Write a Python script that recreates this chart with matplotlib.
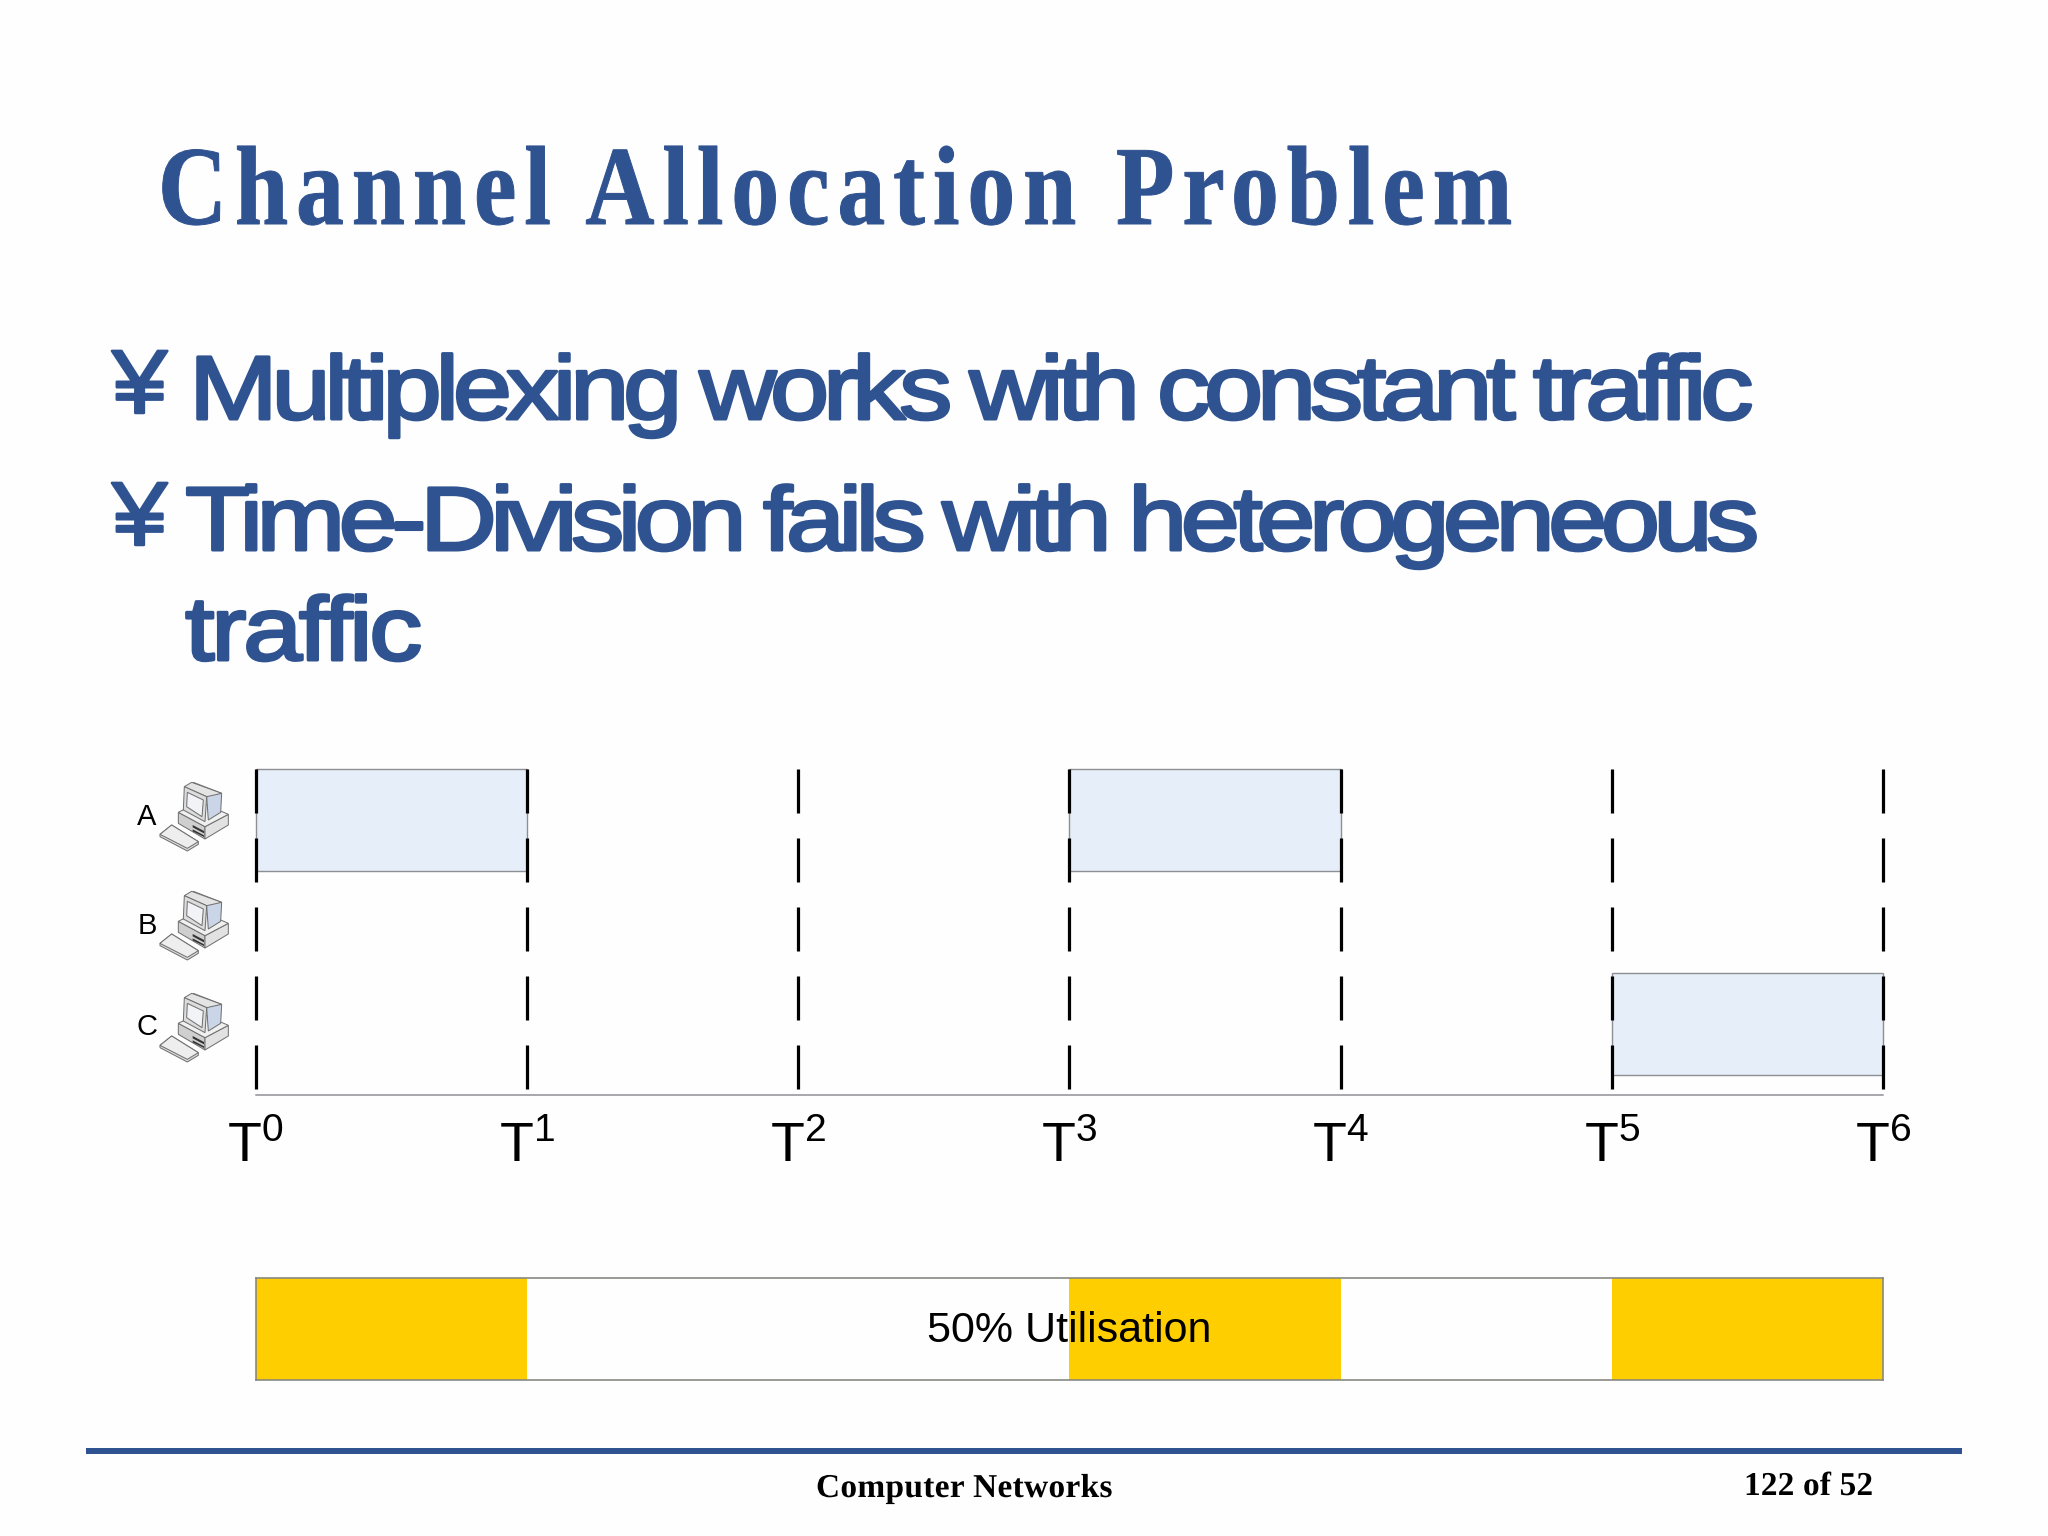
import matplotlib
matplotlib.use("Agg")
import matplotlib.pyplot as plt
from matplotlib import _mathtext
from matplotlib.patches import Polygon
from matplotlib.path import Path
from matplotlib.patheffects import AbstractPathEffect
from matplotlib.font_manager import FontProperties
from matplotlib.textpath import text_to_path

# ---------- data ----------
boundaries = [0, 1, 2, 3, 4, 5, 6]
tick_labels = ["T$^{0}$", "T$^{1}$", "T$^{2}$", "T$^{3}$", "T$^{4}$", "T$^{5}$", "T$^{6}$"]
stations = ["A", "B", "C"]
station_rows = [2, 1, 0]
busy_station_rows = [2, 2, 0]
busy_slots = [0, 3, 5]
title_text = "Channel Allocation Problem"
bullet_lines = ["Multiplexing works with constant traffic",
                "Time-Division fails with heterogeneous",
                "traffic"]
bullet_mark = "\u00a5"
utilisation_text = "50% Utilisation"
footer_text = "Computer Networks"
page_text = "122 of 52"

# ---------- styles ----------
W, H, DPI = 2048, 1536, 100
BLUE = "#2F5290"
PALE = "#E6EEF9"
GOLD = "#FFCE00"
EDGE = "#8C8F94"
BG = "#FEFEFE"
px = 72 / DPI
plt.rcParams["lines.scale_dashes"] = False
plt.rcParams["mathtext.default"] = "regular"
plt.rcParams["font.family"] = ["Liberation Sans", "DejaVu Sans"]
_mathtext.DejaVuSansFontConstants.sup1 = 0.52


class Tracked(AbstractPathEffect):
    """Draw one text string with its glyphs rescaled and spread to a given pixel width."""

    def __init__(self, string, prop, width_px, xscale=1.0, stroke_px=0.0):
        super().__init__()
        self.string, self.prop, self.width_px = string, prop, width_px
        self.xscale, self.stroke_px = xscale, stroke_px

    def draw_path(self, renderer, gc, tpath, affine, rgbFace=None):
        font = text_to_path._get_font(self.prop)
        info, gmap, _ = text_to_path.get_glyphs_with_font(font, self.string)
        ext = tpath.get_extents()
        scale = affine.get_matrix()[0, 0]
        n = max(len(info) - 1, 1)
        track = (self.width_px / scale - ext.width * self.xscale) / n
        verts, codes = [], []
        for i, (gid, x, y, s) in enumerate(info):
            v, c = gmap[gid]
            if len(v):
                verts.extend(v * s * [self.xscale, 1] + [x * self.xscale + i * track, y])
                codes.extend(c)
        gc0 = renderer.new_gc()
        gc0.copy_properties(gc)
        if self.stroke_px > 0:
            gc0.set_linewidth(self.stroke_px * px)
            gc0.set_foreground(rgbFace)
        renderer.draw_path(gc0, Path(verts, codes), affine, rgbFace)
        gc0.restore()


fig = plt.figure(figsize=(W / DPI, H / DPI), dpi=DPI, facecolor=BG)


def axes_px(x0, y0, x1, y1):
    return fig.add_axes([x0 / W, 1 - y1 / H, (x1 - x0) / W, (y1 - y0) / H])


page = axes_px(0, 0, W, H)
page.set_xlim(0, W)
page.set_ylim(H, 0)
page.axis("off")


def label(x, y, s, size, family, weight="normal", color="black", width=None,
          xscale=1.0, stroke=0.0, **kw):
    prop = FontProperties(family=family, weight=weight, size=size)
    t = page.text(x, y, s, fontproperties=prop, color=color, va="baseline", **kw)
    if width is not None:
        t.set_path_effects([Tracked(s, prop, width, xscale, stroke)])
    return t


# ---------- slide text ----------
label(158, 224, title_text, 81, "Liberation Serif", "bold", BLUE, width=1348, xscale=0.85, stroke=1)
label(112, 413, bullet_mark, 65, "Liberation Sans", "normal", BLUE, width=54, xscale=1.1, stroke=2.5)
label(112, 545, bullet_mark, 65, "Liberation Sans", "normal", BLUE, width=54, xscale=1.1, stroke=2.5)
label(189, 419, bullet_lines[0], 65, "Liberation Sans", "normal", BLUE, width=1553, xscale=1.18, stroke=3)
label(185, 550, bullet_lines[1], 65, "Liberation Sans", "normal", BLUE, width=1568, xscale=1.18, stroke=3)
label(185, 660, bullet_lines[2], 65, "Liberation Sans", "normal", BLUE, width=233, xscale=1.18, stroke=3)

# ---------- timeline ----------
TL, TR, TT, TB = 255.5, 1883, 769, 1095
row_h = 102
tl = axes_px(TL, TT, TR, TB)
tl.patch.set_alpha(0)
tl.set_xlim(boundaries[0], boundaries[-1])
tl.set_ylim(-0.5 - (TB - (TT + 3 * row_h)) / row_h, 2.5)
for sp in ("top", "left", "right"):
    tl.spines[sp].set_visible(False)
tl.spines["bottom"].set_color(EDGE)
tl.spines["bottom"].set_linewidth(1.5 * px)
tl.bar(busy_slots, height=1, width=1, bottom=[r - 0.5 for r in busy_station_rows],
       align="edge", color=PALE, edgecolor=EDGE, linewidth=1.4 * px, zorder=2, clip_on=False)
for b in boundaries:
    tl.plot([b, b], tl.get_ylim()[::-1], color="black", lw=3.2 * px,
            linestyle=(0, (44 * px, 25 * px)), dash_capstyle="butt", zorder=3, clip_on=False)
tl.set_yticks([])
tl.set_xticks(boundaries)
tl.set_xticklabels(tick_labels, fontsize=40, family="Liberation Sans")
tl.tick_params(axis="x", length=0, pad=19.5)

# ---------- stations ----------
icon_parts = [
    ([(30, 178), (65, 150), (145, 200), (145, 208), (112, 228), (30, 185)], "#DADADA"),
    ([(30, 178), (65, 150), (145, 200), (112, 220)], "#EEEEEE"),
    ([(85, 112), (165, 155), (165, 192), (85, 145)], "#CFCFCF"),
    ([(165, 155), (235, 118), (235, 150), (165, 192)], "#E2E2E2"),
    ([(85, 112), (148, 80), (235, 118), (165, 155)], "#F0F0F0"),
    ([(130, 22), (215, 55), (212, 112), (175, 135), (170, 65)], "#CBD5E8"),
    ([(103, 35), (125, 22), (215, 55), (170, 65)], "#E4E4E4"),
    ([(103, 35), (170, 65), (165, 140), (100, 105)], "#DCDCDC"),
    ([(112, 52), (160, 75), (156, 125), (110, 95)], "#F1F3F7"),
]
icon_bars = [
    [(128, 150), (162, 168), (162, 175), (128, 157)],
    [(128, 163), (162, 181), (162, 186), (128, 169)],
]
for name, y_label, y_icon in zip(stations, (815, 924, 1025), (775, 884, 986)):
    label(147, y_label + 10, name, 21, "Liberation Sans", ha="center")
    for pts, col in icon_parts:
        page.add_patch(Polygon([(150 + x / 3, y_icon + y / 3) for x, y in pts], closed=True,
                               facecolor=col, edgecolor="#6F6F6F", linewidth=1.0 * px))
    for pts in icon_bars:
        page.add_patch(Polygon([(150 + x / 3, y_icon + y / 3) for x, y in pts], closed=True,
                               facecolor="#333333", edgecolor="none"))

# ---------- utilisation bar ----------
ub = axes_px(TL, 1278, TR, 1380)
ub.set_facecolor(BG)
ub.set_xlim(boundaries[0], boundaries[-1])
ub.set_ylim(0, 1)
ub.bar(busy_slots, height=1, width=1, align="edge", color=GOLD, linewidth=0)
ub.set_xticks([])
ub.set_yticks([])
for sp in ub.spines.values():
    sp.set_color("#85857F")
    sp.set_linewidth(1.6 * px)
ub.text(3, 0.37, utilisation_text, ha="center", va="baseline", fontsize=31,
        family="Liberation Sans", color="black")

# ---------- footer ----------
page.plot([86, 1962], [1451, 1451], color=BLUE, lw=6 * px, solid_capstyle="butt")
label(816, 1497, footer_text, 24, "Liberation Serif", "bold", width=294)
label(1744, 1495, page_text, 24, "Liberation Serif", "bold", width=125)

fig.savefig("out.png", dpi=DPI, facecolor=BG)
